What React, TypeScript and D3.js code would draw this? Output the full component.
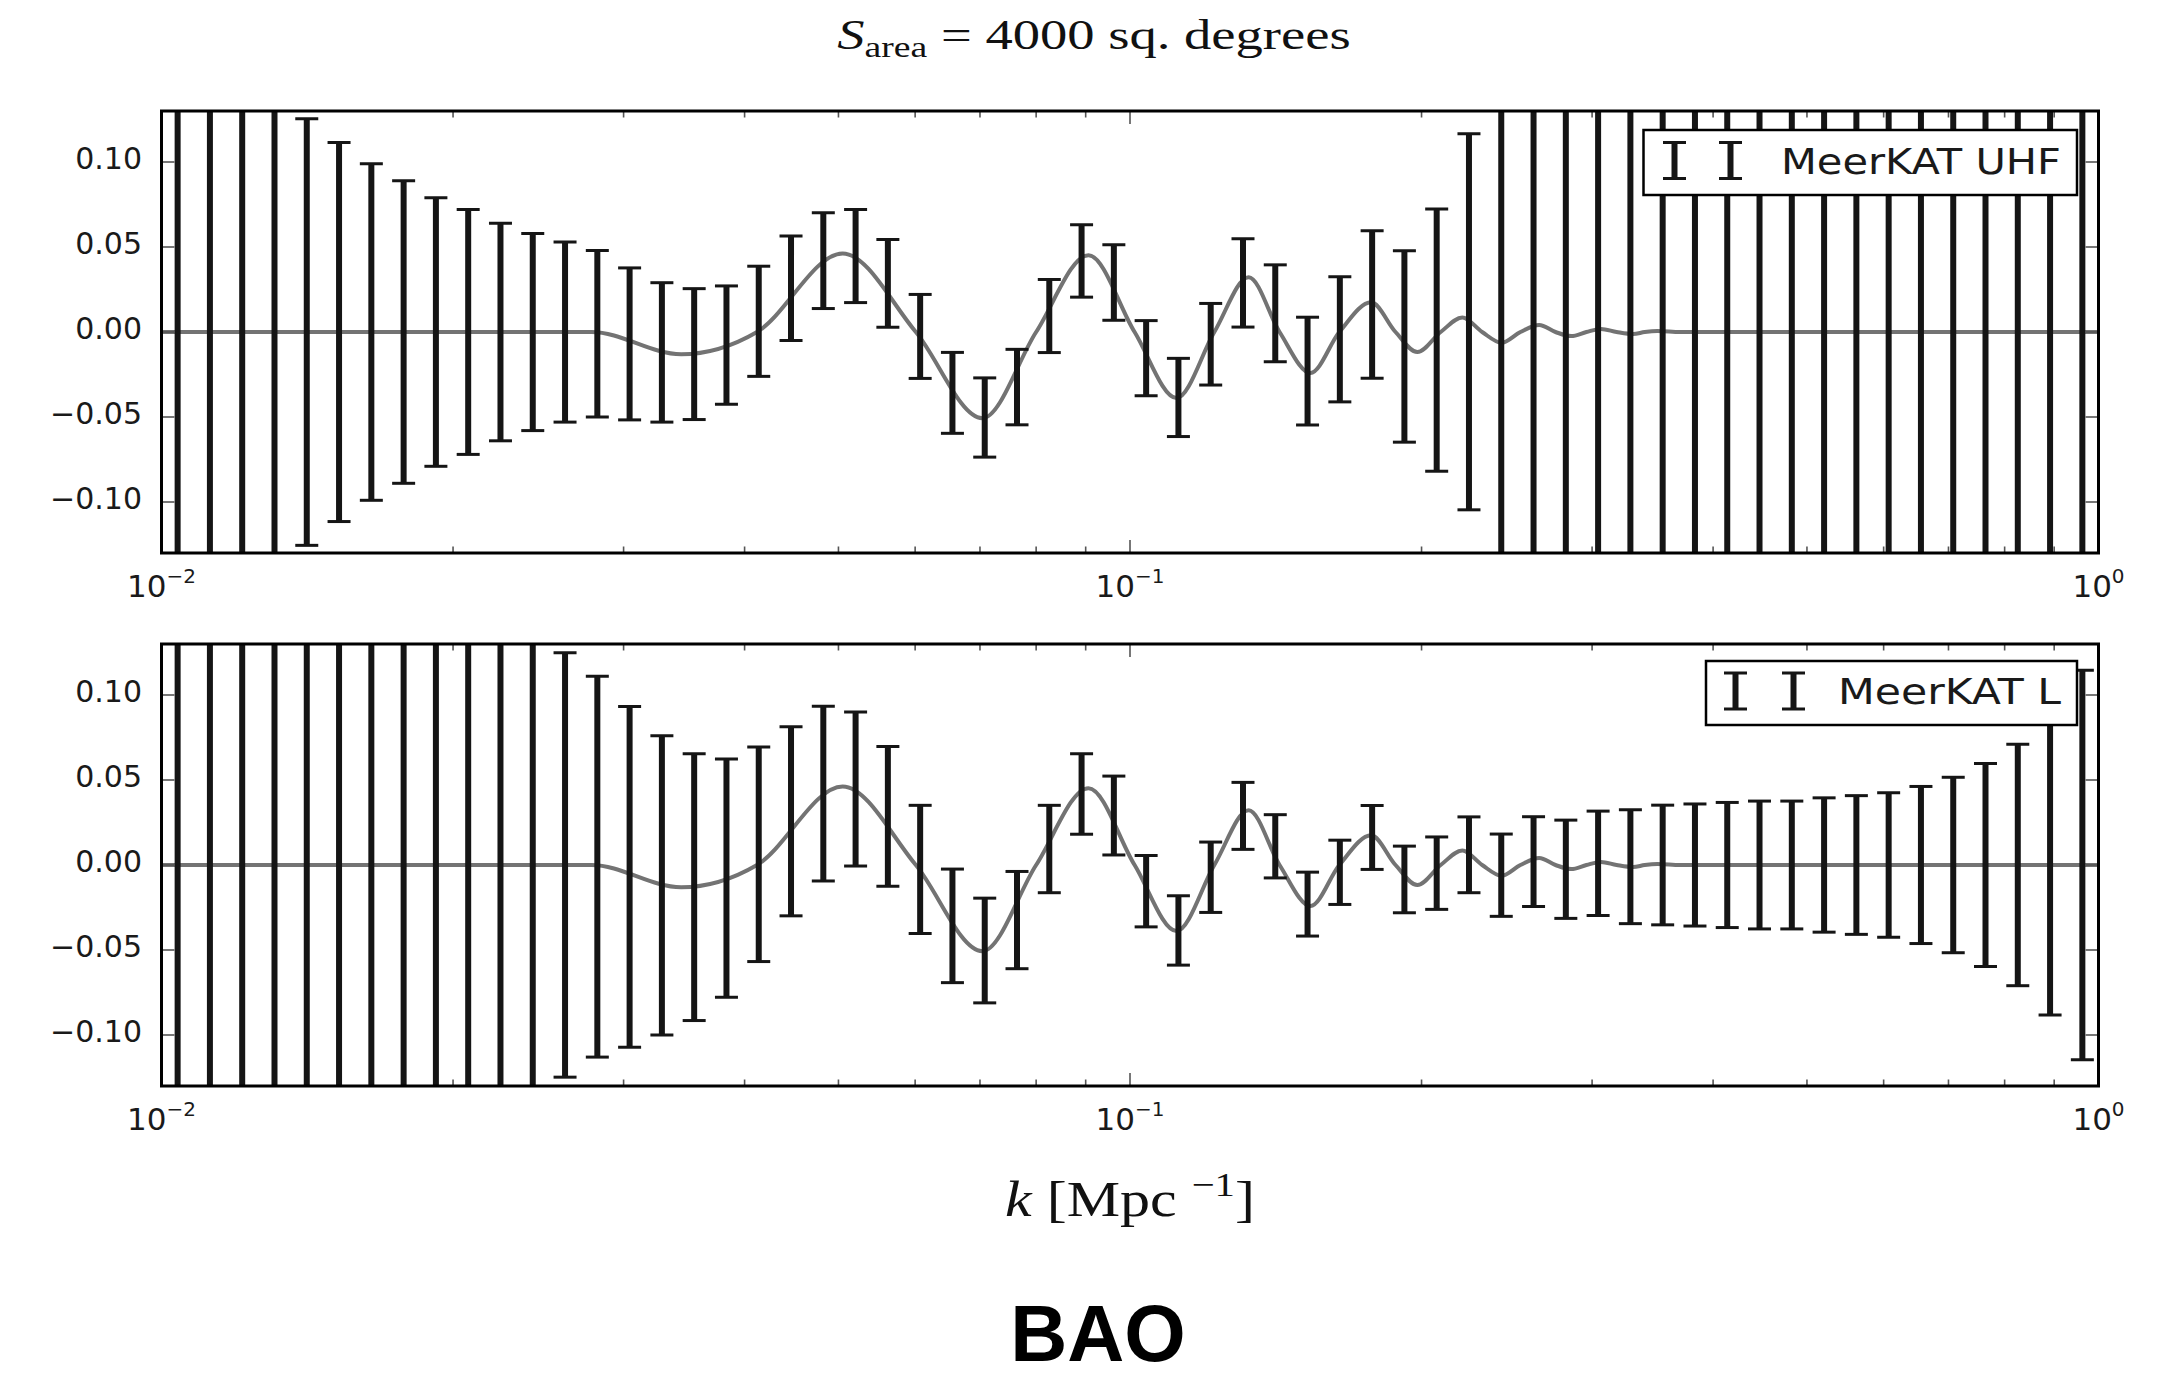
import React from "react";
import * as d3 from "d3";

// ---------- DATA ----------
// bin centres in k [Mpc^-1]
const kBins = [
  0.010391, 0.01122, 0.012115, 0.013082, 0.014125, 0.015252, 0.016469, 0.017783, 0.019201, 0.020733,
  0.022387, 0.024173, 0.026102, 0.028184, 0.030432, 0.03286, 0.035481, 0.038312, 0.041368, 0.044668,
  0.048232, 0.05208, 0.056234, 0.06072, 0.065564, 0.070795, 0.076442, 0.08254, 0.089125, 0.096235,
  0.10391, 0.1122, 0.12115, 0.13082, 0.14125, 0.15252, 0.16469, 0.17783, 0.19201, 0.20733,
  0.22387, 0.24173, 0.26102, 0.28184, 0.30432, 0.3286, 0.35481, 0.38312, 0.41368, 0.44668,
  0.48232, 0.5208, 0.56234, 0.6072, 0.65564, 0.70795, 0.76442, 0.8254, 0.89125, 0.96235,
];

// fiducial BAO wiggle value at each bin centre (centre of each error bar)
const binCenter = [
  0, 0, 0, 0, 0, 0, 0, 0, 0, 0,
  0, 0, 0, -0.001, -0.007, -0.012, -0.013, -0.0077, 0.0063, 0.0257,
  0.042, 0.0447, 0.0286, -0.0026, -0.0358, -0.0503, -0.0324, 0.0094, 0.0418, 0.0291,
  -0.0154, -0.0385, -0.0072, 0.0289, 0.011, -0.023, -0.0043, 0.0162, -0.0085, -0.0048,
  0.006, -0.006, 0.002, -0.0025, 0.001, -0.001, 0, 0, 0, 0,
  0, 0, 0, 0, 0, 0, 0, 0, 0, 0,
];

// 1-sigma errors, MeerKAT UHF
const sigmaUHF = [
  0.5, 0.5, 0.5, 0.5, 0.1255, 0.1115, 0.099, 0.089, 0.079, 0.072,
  0.064, 0.058, 0.053, 0.049, 0.0447, 0.041, 0.0385, 0.0348, 0.0324, 0.0307,
  0.0282, 0.0274, 0.0258, 0.0247, 0.0238, 0.0233, 0.0222, 0.0215, 0.0213, 0.0222,
  0.0221, 0.023, 0.024, 0.026, 0.0285, 0.0317, 0.0368, 0.0434, 0.0563, 0.0771,
  0.1106, 0.5, 0.5, 0.5, 0.5, 0.5, 0.5, 0.5, 0.5, 0.5,
  0.5, 0.5, 0.5, 0.5, 0.5, 0.5, 0.5, 0.5, 0.5, 0.5,
];

// 1-sigma errors, MeerKAT L
const sigmaL = [
  0.5, 0.5, 0.5, 0.5, 0.5, 0.5, 0.5, 0.5, 0.5, 0.5,
  0.5, 0.5, 0.1248, 0.112, 0.1002, 0.088, 0.0785, 0.0701, 0.0631, 0.0556,
  0.0514, 0.0453, 0.0411, 0.0377, 0.0334, 0.0308, 0.0286, 0.0257, 0.0237, 0.0232,
  0.021, 0.0204, 0.0207, 0.0197, 0.0186, 0.0188, 0.0189, 0.0188, 0.0196, 0.0213,
  0.0223, 0.0242, 0.0264, 0.0289, 0.0307, 0.0335, 0.0352, 0.0359, 0.0368, 0.0376,
  0.0376, 0.0395, 0.0408, 0.0425, 0.0462, 0.0516, 0.0597, 0.071, 0.0883, 0.1145,
];

// model curve: extrema and zero crossings of the wiggle
const curveK = [
  0.01, 0.0278, 0.0344, 0.0412, 0.0505, 0.0601, 0.0704, 0.08, 0.0906, 0.1011,
  0.1117, 0.1222, 0.1326, 0.1427, 0.1536, 0.1645, 0.1774, 0.188, 0.198, 0.2093,
  0.2204, 0.231, 0.2418, 0.253, 0.2645, 0.275, 0.2855, 0.296, 0.3064, 0.318,
  0.3307, 0.34, 0.3504, 0.37, 1.0,
];
const curveV = [
  0, 0, -0.0131, 0, 0.0462, 0, -0.0507, 0, 0.0452, 0,
  -0.0388, 0, 0.0322, 0, -0.0241, 0, 0.0175, 0, -0.0118, 0,
  0.0085, 0, -0.0063, 0, 0.0041, 0, -0.0024, 0, 0.0018, 0,
  -0.0012, 0, 0.0006, 0, 0,
];

const yTicks = [-0.1, -0.05, 0, 0.05, 0.1];
const yTickLabels = ["\u22120.10", "\u22120.05", "0.00", "0.05", "0.10"];
const xMajorTicks = [0.01, 0.1, 1];
const xMajorExp = ["\u22122", "\u22121", "0"];
const panelLabels = ["MeerKAT UHF", "MeerKAT L"];
const panelSigmas = [sigmaUHF, sigmaL];
const titleText = " = 4000 sq. degrees";
const bottomText = "BAO";

// ---------- LAYOUT / STYLE ----------
const W = 2176;
const H = 1378;
const X0 = 161.5;
const X1 = 2098.5;
const panelBoxes = [
  { top: 111, bottom: 553 },
  { top: 644, bottom: 1086 },
];
const legendBoxes = [
  { x: 1643.5, y: 130, w: 433.5, h: 65, g1: 31, g2: 87, tx: 137.5, tw: 280 },
  { x: 1706, y: 661, w: 371, h: 64, g1: 29.5, g2: 87.5, tx: 132, tw: 223 },
];

const BAR = "#151515";
const CURVE = "#737373";

export default function App() {
  const x = d3.scaleLog().domain([0.01, 1]).range([X0, X1]);
  const allTicks = x.ticks();
  const isMajor = (v: number) => Math.abs(Math.log10(v) - Math.round(Math.log10(v))) < 1e-9;
  const curvePts = curveK.map((k, i) => ({ k, v: curveV[i] }));

  return (
    <div style={{ position: "fixed", left: 0, top: 0, width: W, height: H, background: "#fff" }}>
      <svg width={W} height={H} style={{ display: "block" }}>
        <rect width={W} height={H} fill="#fff" />
        <defs>
          {panelBoxes.map((b, p) => (
            <clipPath id={`clip${p}`} key={p}>
              <rect x={X0} y={b.top} width={X1 - X0} height={b.bottom - b.top} />
            </clipPath>
          ))}
        </defs>

        {/* title */}
        <g transform={`translate(1094,49) scale(1.3,1)`}>
          <text textAnchor="middle" fontFamily="Liberation Serif" fontSize={42} fill="#111">
            <tspan fontStyle="italic">S</tspan>
            <tspan fontSize={29} dy={8}>area</tspan>
            <tspan dy={-8}>{titleText}</tspan>
          </text>
        </g>

        {panelBoxes.map((b, p) => {
          const y = d3.scaleLinear().domain([-0.13, 0.13]).range([b.bottom, b.top]);
          const line = d3
            .line<{ k: number; v: number }>()
            .x((d) => x(d.k))
            .y((d) => y(d.v))
            .curve(d3.curveMonotoneX);
          const sig = panelSigmas[p];
          const lg = legendBoxes[p];
          const gy = lg.y + lg.h / 2 - 2;
          return (
            <g key={p}>
              <g clipPath={`url(#clip${p})`}>
                <path d={line(curvePts) || ""} fill="none" stroke={CURVE} strokeWidth={4} />
                {kBins.map((k, i) => {
                  const cx = x(k);
                  const yt = y(binCenter[i] + sig[i]);
                  const yb = y(binCenter[i] - sig[i]);
                  return (
                    <g key={i}>
                      <line x1={cx} x2={cx} y1={yt} y2={yb} stroke={BAR} strokeWidth={6} />
                      <line x1={cx - 11.5} x2={cx + 11.5} y1={yt} y2={yt} stroke={BAR} strokeWidth={3} />
                      <line x1={cx - 11.5} x2={cx + 11.5} y1={yb} y2={yb} stroke={BAR} strokeWidth={3} />
                    </g>
                  );
                })}
              </g>

              {/* x ticks (top & bottom, inward) */}
              {allTicks.map((v, i) => {
                const len = isMajor(v) ? 13 : 6.5;
                const tx = x(v);
                return (
                  <g key={`xt${i}`} stroke="#555" strokeWidth={1.6}>
                    <line x1={tx} x2={tx} y1={b.bottom} y2={b.bottom - len} />
                    <line x1={tx} x2={tx} y1={b.top} y2={b.top + len} />
                  </g>
                );
              })}
              {/* y ticks (left & right, inward) */}
              {yTicks.map((v, i) => (
                <g key={`yt${i}`} stroke="#555" strokeWidth={1.6}>
                  <line x1={X0} x2={X0 + 13} y1={y(v)} y2={y(v)} />
                  <line x1={X1} x2={X1 - 13} y1={y(v)} y2={y(v)} />
                </g>
              ))}

              <rect
                x={X0}
                y={b.top}
                width={X1 - X0}
                height={b.bottom - b.top}
                fill="none"
                stroke="#000"
                strokeWidth={3}
              />

              {/* y tick labels */}
              {yTicks.map((v, i) => (
                <text
                  key={`yl${i}`}
                  x={142}
                  y={y(v) + 7}
                  textAnchor="end"
                  fontFamily="DejaVu Sans"
                  fontSize={30}
                  fill="#1a1a1a"
                >
                  {yTickLabels[i]}
                </text>
              ))}
              {/* x tick labels */}
              {xMajorTicks.map((v, i) => (
                <text
                  key={`xl${i}`}
                  x={x(v)}
                  y={b.bottom + 44}
                  textAnchor="middle"
                  fontFamily="DejaVu Sans"
                  fontSize={31}
                  fill="#1a1a1a"
                >
                  10
                  <tspan dy={-14} fontSize={20}>
                    {xMajorExp[i]}
                  </tspan>
                </text>
              ))}

              {/* legend */}
              <rect x={lg.x} y={lg.y} width={lg.w} height={lg.h} fill="#fff" stroke="#000" strokeWidth={2.5} />
              {[lg.g1, lg.g2].map((g, j) => {
                const gx = lg.x + g;
                return (
                  <g key={`lgg${j}`} stroke={BAR}>
                    <line x1={gx} x2={gx} y1={gy - 18} y2={gy + 18} strokeWidth={6} />
                    <line x1={gx - 11.5} x2={gx + 11.5} y1={gy - 18} y2={gy - 18} strokeWidth={3} />
                    <line x1={gx - 11.5} x2={gx + 11.5} y1={gy + 18} y2={gy + 18} strokeWidth={3} />
                  </g>
                );
              })}
              <text
                x={lg.x + lg.tx}
                y={gy + 13}
                fontFamily="DejaVu Sans"
                fontSize={36}
                fill="#1a1a1a"
                textLength={lg.tw}
                lengthAdjust="spacingAndGlyphs"
              >
                {panelLabels[p]}
              </text>
            </g>
          );
        })}

        {/* x label */}
        <g transform={`translate(1130,1216) scale(1.2,1)`}>
          <text textAnchor="middle" fontFamily="Liberation Serif" fontSize={50} fill="#111">
            <tspan fontStyle="italic">k</tspan>
            <tspan> [Mpc </tspan>
            <tspan fontSize={34} dy={-20}>{"\u22121"}</tspan>
            <tspan dy={20}>]</tspan>
          </text>
        </g>

        {/* bottom caption */}
        <text
          x={1098}
          y={1361}
          textAnchor="middle"
          fontFamily="Liberation Sans"
          fontWeight="bold"
          fontSize={79}
          fill="#000"
        >
          {bottomText}
        </text>
      </svg>
    </div>
  );
}
